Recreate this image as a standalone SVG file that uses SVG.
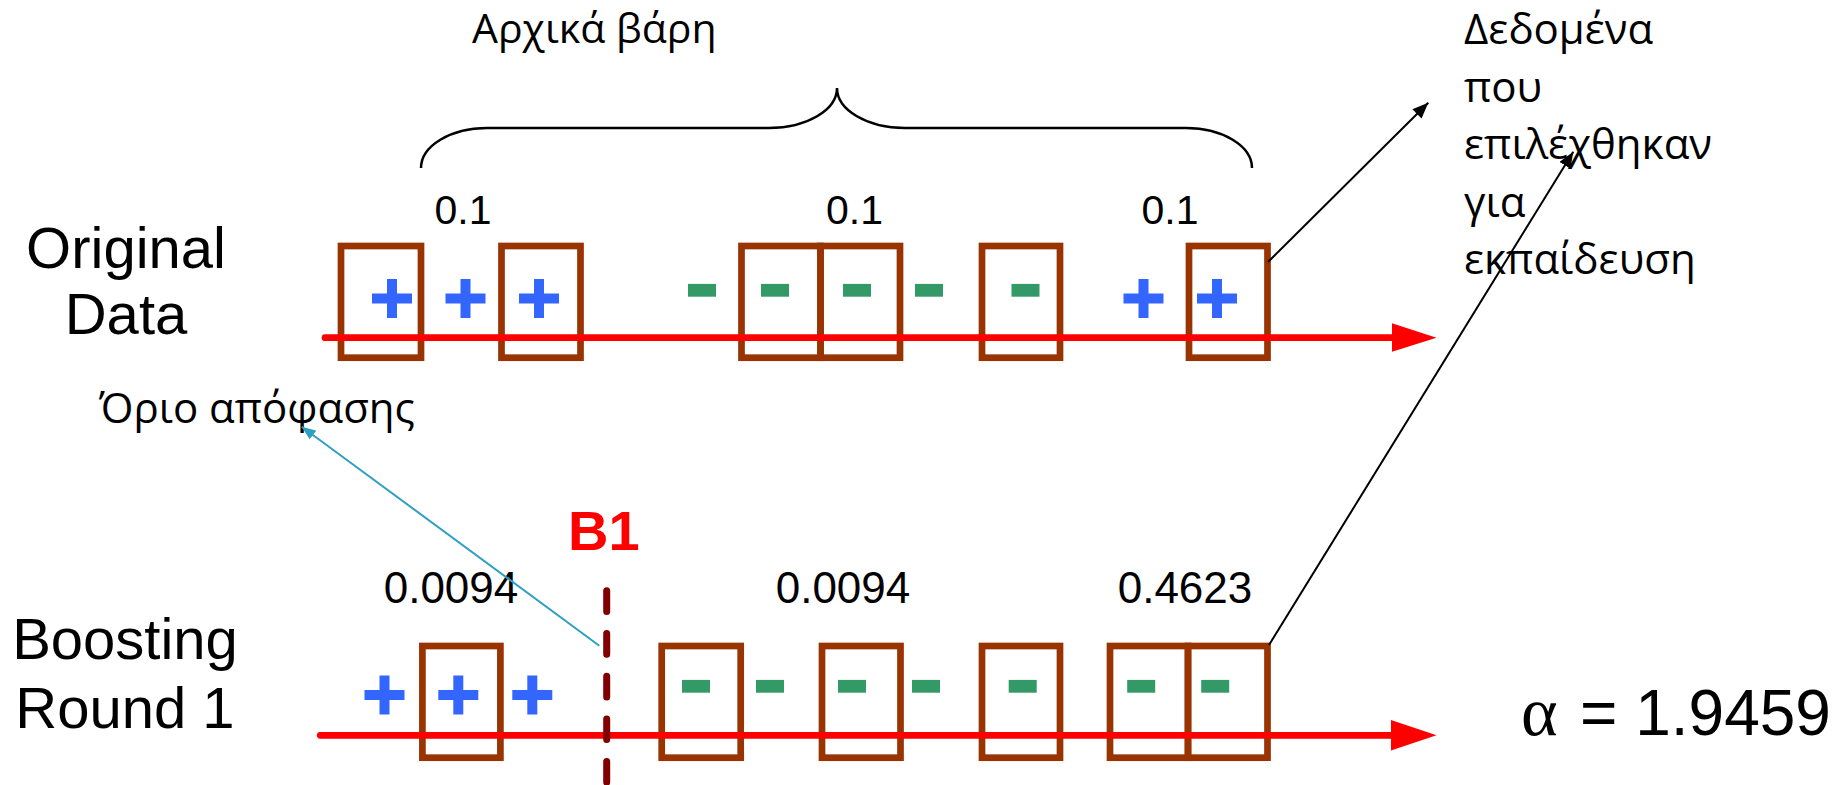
<svg xmlns="http://www.w3.org/2000/svg" width="1843" height="785" viewBox="0 0 1843 785">
  <style>
    .sans { font-family: "Liberation Sans", Arial, sans-serif; fill: #000; }
    .greek { font-family: "Open Sans", "Noto Sans", sans-serif; fill: #000; }
    .row-label { font-size: 58px; text-anchor: middle; }
    .weight { font-size: 41px; text-anchor: middle; }
    .weight2 { font-size: 44px; text-anchor: middle; }
    .box { fill: none; stroke: #993300; stroke-width: 6.7; }
    .axis { stroke: #ff0000; stroke-width: 6.7; stroke-linecap: round; }
    .head { fill: #ff0000; }
    .plus { fill: #3366ff; }
    .minus { fill: #339966; }
    .pointer { stroke: #000; stroke-width: 2; fill: none; }
    .pointer-teal { stroke: #2fa0c2; stroke-width: 2; fill: none; }
  </style>
  <defs>
    <path id="plus" d="M-20,-5 h40 v10 h-40z M-5,-19.5 h10 v39 h-10z"/>
    <rect id="minus" x="-14" y="-6.4" width="28" height="12.8"/>
    <marker id="arrow-black" markerUnits="userSpaceOnUse" markerWidth="18" markerHeight="14" refX="16" refY="6.5" orient="auto">
      <path d="M0,0 L16,6.5 L0,13 z" fill="#000"/>
    </marker>
    <marker id="arrow-teal" markerUnits="userSpaceOnUse" markerWidth="16" markerHeight="12" refX="14" refY="5.5" orient="auto">
      <path d="M0,0 L14,5.5 L0,11 z" fill="#2fa0c2"/>
    </marker>
  </defs>

  <!-- caption for the initial weights -->
  <g id="initial-weights">
    <path d="M421,168 A66,40 0 0 1 487,128 L769,128 A68,40 0 0 0 837,88 A68,40 0 0 0 905,128 L1186,128 A66,40 0 0 1 1252,168" fill="none" stroke="#000" stroke-width="2.5"/>
    <text class="greek" x="472" y="43" font-size="41">Αρχικά βάρη</text>
  </g>

  <!-- top row: original data -->
  <g id="original-data">
    <text class="sans row-label" x="126" y="268">Original</text>
    <text class="sans row-label" x="126" y="334">Data</text>
  </g>
  <g id="original-weights">
    <text class="sans weight" x="463" y="224">0.1</text>
    <text class="sans weight" x="854.5" y="224">0.1</text>
    <text class="sans weight" x="1170" y="224">0.1</text>
  </g>
  <g id="original-boxes">
    <rect class="box" x="341" y="246" width="80" height="111.7"/>
    <rect class="box" x="501.5" y="246" width="79" height="111.7"/>
    <rect class="box" x="741.5" y="246" width="79" height="111.7"/>
    <rect class="box" x="820.5" y="246" width="79.5" height="111.7"/>
    <rect class="box" x="982" y="246" width="78" height="111.7"/>
    <rect class="box" x="1189" y="246" width="78.5" height="111.7"/>
  </g>
  <g id="original-samples">
    <use href="#plus" class="plus" x="392" y="298.5"/>
    <use href="#plus" class="plus" x="465.5" y="298.5"/>
    <use href="#plus" class="plus" x="539" y="298.5"/>
    <use href="#minus" class="minus" x="702" y="290.3"/>
    <use href="#minus" class="minus" x="775" y="290.3"/>
    <use href="#minus" class="minus" x="857" y="290.3"/>
    <use href="#minus" class="minus" x="929" y="290.3"/>
    <use href="#minus" class="minus" x="1025.5" y="290.3"/>
    <use href="#plus" class="plus" x="1143.5" y="298.5"/>
    <use href="#plus" class="plus" x="1217" y="298.5"/>
  </g>
  <g id="original-axis">
    <line class="axis" x1="325" y1="337.7" x2="1395" y2="337.7"/>
    <polygon class="head" points="1392,323.3 1436.5,337.7 1392,351.8"/>
  </g>

  <!-- bottom row: boosting round 1 -->
  <g id="boosting-round">
    <text class="sans row-label" x="125" y="659">Boosting</text>
    <text class="sans row-label" x="125" y="728">Round 1</text>
  </g>
  <g id="round-weights">
    <text class="sans weight2" x="451" y="603">0.0094</text>
    <text class="sans weight2" x="843" y="603">0.0094</text>
    <text class="sans weight2" x="1185" y="603">0.4623</text>
  </g>
  <g id="round-boxes">
    <rect class="box" x="422.4" y="646" width="78" height="111.7"/>
    <rect class="box" x="661.7" y="646" width="79" height="111.7"/>
    <rect class="box" x="822" y="646" width="78.5" height="111.7"/>
    <rect class="box" x="982" y="646" width="78" height="111.7"/>
    <rect class="box" x="1110" y="646" width="78" height="111.7"/>
    <rect class="box" x="1188" y="646" width="79.5" height="111.7"/>
  </g>
  <g id="round-samples">
    <use href="#plus" class="plus" x="384.5" y="695"/>
    <use href="#plus" class="plus" x="458.3" y="695"/>
    <use href="#plus" class="plus" x="532.3" y="695"/>
    <use href="#minus" class="minus" x="696" y="686.3"/>
    <use href="#minus" class="minus" x="770" y="686.3"/>
    <use href="#minus" class="minus" x="852" y="686.3"/>
    <use href="#minus" class="minus" x="926" y="686.3"/>
    <use href="#minus" class="minus" x="1022.7" y="686.3"/>
    <use href="#minus" class="minus" x="1141.2" y="686.3"/>
    <use href="#minus" class="minus" x="1215.2" y="686.3"/>
  </g>
  <g id="round-axis">
    <line class="axis" x1="320.2" y1="735.3" x2="1394" y2="735.3"/>
    <polygon class="head" points="1391,720 1436.5,735.3 1391,750.5"/>
  </g>

  <!-- weak learner B1 and its decision boundary -->
  <g id="b1">
    <text class="sans" x="568" y="550" font-size="56" font-weight="bold" style="fill:#ff0000">B1</text>
    <line x1="606.7" y1="590.8" x2="606.7" y2="800" stroke="#800000" stroke-width="7" stroke-linecap="round" stroke-dasharray="20.7 22"/>
  </g>
  <g id="boundary-label">
    <text class="greek" x="99" y="423" font-size="42">Όριο απόφασης</text>
  </g>

  <!-- note on the selected training samples -->
  <g id="selected-note">
    <text class="greek" font-size="42">
      <tspan x="1464" y="44">Δεδομένα</tspan>
      <tspan x="1464" y="101.5">που</tspan>
      <tspan x="1464" y="159">επιλέχθηκαν</tspan>
      <tspan x="1464" y="216.5">για</tspan>
      <tspan x="1464" y="274">εκπαίδευση</tspan>
    </text>
  </g>

  <g id="alpha">
    <text class="sans" y="735" font-size="64"><tspan x="1521" font-family="Liberation Serif, serif" font-size="70">α</tspan><tspan x="1580">= 1.9459</tspan></text>
  </g>

  <!-- pointers -->
  <g id="connectors">
    <line class="pointer" x1="1268" y1="262" x2="1428.3" y2="102.7" marker-end="url(#arrow-black)"/>
    <line class="pointer" x1="1269" y1="645" x2="1573.3" y2="151.7" marker-end="url(#arrow-black)"/>
    <line class="pointer-teal" x1="599.3" y1="645.7" x2="301.7" y2="426.7" marker-end="url(#arrow-teal)"/>
  </g>
</svg>
